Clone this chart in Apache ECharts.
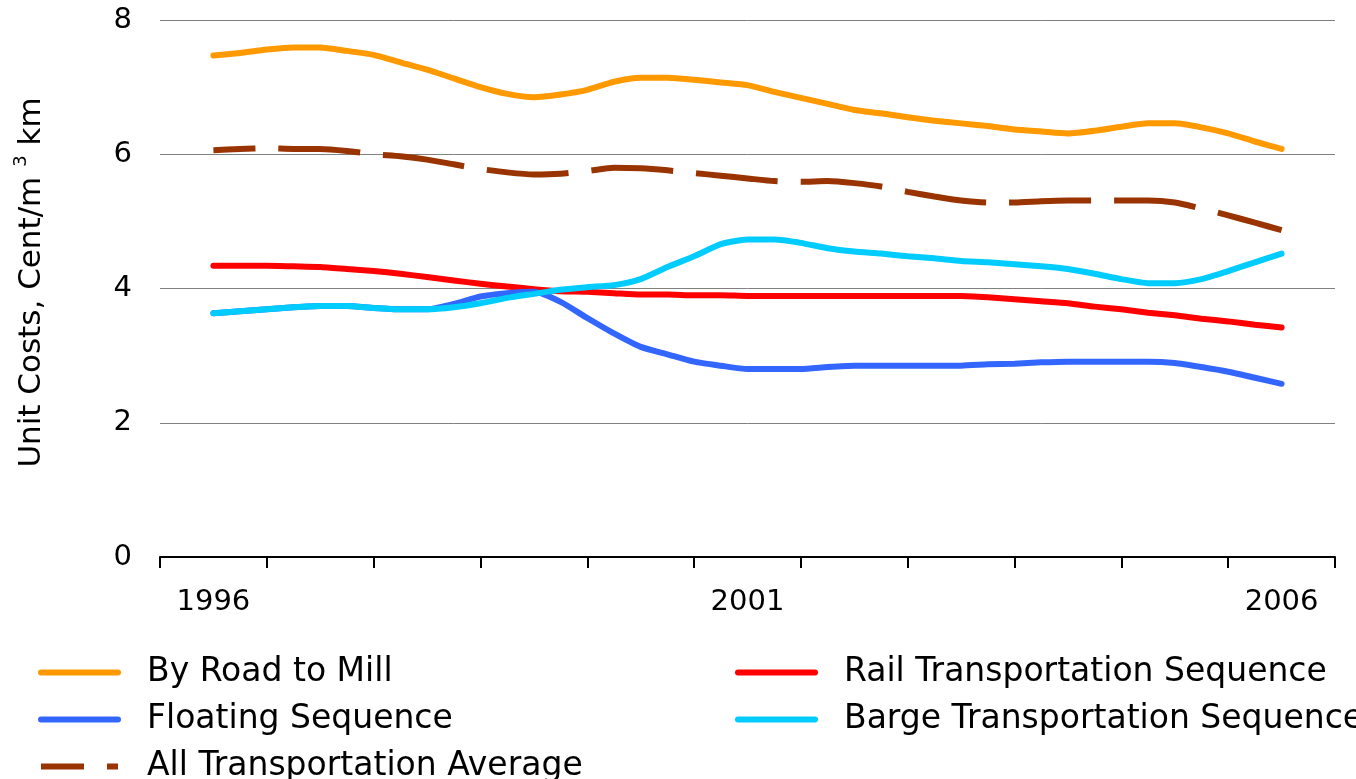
<!DOCTYPE html>
<html>
<head>
<meta charset="utf-8">
<script src="https://cdn.jsdelivr.net/npm/echarts@6/dist/echarts.min.js"></script>
<style>
  html, body { margin: 0; padding: 0; background: #fff; }
  #chart { width: 1356px; height: 779px; }
</style>
</head>
<body>
<div id="chart"></div>
<script>
const years = ["1996", "1997", "1998", "1999", "2000", "2001", "2002", "2003", "2004", "2005", "2006"];

// quarterly sample positions
const quarters = [
  1996, 1996.25, 1996.5, 1996.75, 1997, 1997.25, 1997.5, 1997.75,
  1998, 1998.25, 1998.5, 1998.75, 1999, 1999.25, 1999.5, 1999.75,
  2000, 2000.25, 2000.5, 2000.75, 2001, 2001.25, 2001.5, 2001.75,
  2002, 2002.25, 2002.5, 2002.75, 2003, 2003.25, 2003.5, 2003.75,
  2004, 2004.25, 2004.5, 2004.75, 2005, 2005.25, 2005.5, 2005.75, 2006
];

const roadToMill = [
  7.47, 7.51, 7.56, 7.59, 7.59, 7.54, 7.48, 7.37, 7.26, 7.13, 7.00, 6.90, 6.85, 6.89,
  6.96, 7.08, 7.14, 7.14, 7.11, 7.07, 7.03, 6.93, 6.84, 6.75, 6.66, 6.61, 6.55, 6.50,
  6.46, 6.42, 6.37, 6.34, 6.31, 6.35, 6.41, 6.46, 6.46, 6.40, 6.31, 6.19, 6.08
];
const rail = [
  4.34, 4.34, 4.34, 4.33, 4.32, 4.29, 4.26, 4.22, 4.17, 4.12, 4.07, 4.03, 3.99, 3.96,
  3.95, 3.93, 3.91, 3.91, 3.90, 3.90, 3.89, 3.89, 3.89, 3.89, 3.89, 3.89, 3.89, 3.89,
  3.89, 3.87, 3.84, 3.81, 3.78, 3.73, 3.69, 3.64, 3.60, 3.55, 3.51, 3.46, 3.42
];
const floating = [
  3.63, 3.66, 3.69, 3.72, 3.74, 3.74, 3.71, 3.69, 3.69, 3.77, 3.88, 3.93, 3.95, 3.80,
  3.56, 3.33, 3.13, 3.02, 2.91, 2.85, 2.80, 2.80, 2.80, 2.83, 2.85, 2.85, 2.85, 2.85,
  2.85, 2.87, 2.88, 2.90, 2.91, 2.91, 2.91, 2.91, 2.89, 2.83, 2.76, 2.67, 2.58
];
const barge = [
  3.63, 3.66, 3.69, 3.72, 3.74, 3.74, 3.71, 3.69, 3.69, 3.72, 3.78, 3.86, 3.92, 3.98,
  4.02, 4.05, 4.14, 4.32, 4.48, 4.66, 4.73, 4.73, 4.68, 4.60, 4.55, 4.52, 4.48, 4.45,
  4.41, 4.39, 4.36, 4.33, 4.29, 4.22, 4.14, 4.08, 4.08, 4.14, 4.26, 4.39, 4.52
];
const average = [
  6.06, 6.08, 6.09, 6.08, 6.08, 6.05, 6.00, 5.97, 5.92, 5.85, 5.78, 5.73, 5.70, 5.71,
  5.75, 5.80, 5.79, 5.76, 5.72, 5.68, 5.64, 5.60, 5.59, 5.60, 5.57, 5.52, 5.44, 5.37,
  5.31, 5.28, 5.28, 5.30, 5.31, 5.31, 5.31, 5.31, 5.28, 5.19, 5.09, 4.98, 4.87
];
const yTicks = [0, 2, 4, 6, 8];

const FONT = "DejaVu Sans";

function pairs(vals) {
  return quarters.map((q, i) => [q, vals[i]]);
}

function lineSeries(name, vals, color, extra) {
  return Object.assign({
    name: name,
    type: "line",
    xAxisIndex: 0,
    data: pairs(vals),
    showSymbol: false,
    symbol: "none",
    smooth: 0.2,
    lineStyle: { color: color, width: 6, cap: "round", join: "round" },
    itemStyle: { color: color },
    emphasis: { disabled: true },
  }, extra || {});
}

// shared legend look; symbols hidden so only the line shows
function legendBlock(left, data) {
  return {
    orient: "vertical",
    left: left,
    top: 656,
    height: 140,
    padding: 0,
    itemGap: 14,
    itemWidth: 77,
    itemHeight: 14,
    selectedMode: false,
    itemStyle: { opacity: 0 },
    lineStyle: { width: 6, cap: "round" },
    textStyle: { color: "#000", fontSize: 33, lineHeight: 31, fontFamily: FONT, padding: [0, 0, 0, 24] },
    data: data,
  };
}

const chart = echarts.init(document.getElementById("chart"));

const option = {
  animation: false,
  backgroundColor: "#ffffff",
  grid: { left: 160, right: 21, top: 20, bottom: 222 },
  xAxis: [
    {
      type: "value",
      position: "bottom",
      min: 1995.5,
      max: 2006.5,
      show: false,
    },
    {
      type: "category",
      position: "bottom",
      data: years,
      boundaryGap: true,
      axisLine: { show: true, lineStyle: { color: "#000", width: 2 } },
      axisTick: { show: true, interval: 0, length: 11, lineStyle: { color: "#000", width: 2 } },
      axisLabel: { interval: 4, margin: 31, color: "#000", fontSize: 29, fontFamily: FONT },
      splitLine: { show: false },
    },
  ],
  yAxis: {
    type: "value",
    min: yTicks[0],
    max: yTicks[yTicks.length - 1],
    interval: 2,
    axisLine: { show: false },
    axisTick: { show: false },
    splitLine: { show: true, lineStyle: { color: "#808080", width: 1 } },
    axisLabel: { margin: 28, color: "#000", fontSize: 29, fontFamily: FONT },
    name: "Unit Costs, Cent/m {sup|3} km",
    nameLocation: "middle",
    nameRotate: 90,
    nameGap: 108,
    nameTextStyle: {
      color: "#000",
      fontSize: 31,
      fontFamily: FONT,
      padding: [0, 0, 0, 12],
      rich: {
        sup: { fontSize: 18, fontFamily: FONT, color: "#000", padding: [0, 0, 22, 0] },
      },
    },
  },
  legend: [
    legendBlock(38, [
      "By Road to Mill",
      "Floating Sequence",
      { name: "All Transportation Average", lineStyle: { type: [43, 23], dashOffset: 0, cap: "butt" } },
    ]),
    legendBlock(735, ["Rail Transportation Sequence", "Barge Transportation Sequence"]),
  ],
  series: [
    lineSeries("By Road to Mill", roadToMill, "#ff9900"),
    lineSeries("Rail Transportation Sequence", rail, "#ff0000"),
    lineSeries("Floating Sequence", floating, "#3366ff"),
    lineSeries("Barge Transportation Sequence", barge, "#00ccff"),
    lineSeries("All Transportation Average", average, "#993300", {
      lineStyle: { color: "#993300", width: 6, type: [82, 23], dashOffset: 40, cap: "butt" },
    }),
  ],
};

chart.setOption(option);
</script>
</body>
</html>
